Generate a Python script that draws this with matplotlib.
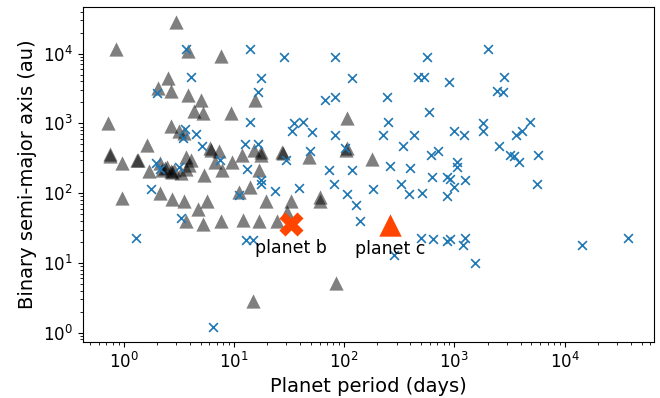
import matplotlib
matplotlib.use("Agg")
import matplotlib.pyplot as plt
import numpy as np

# circumbinary / wide-binary hosts (grey triangles)
tri_period = [0.86, 2.96, 3.86, 7.69, 2.54, 2.06, 2.67, 3.86, 5.09, 4.34,
              5.28, 9.33, 15.4, 0.73, 2.67, 107, 3.15, 3.57, 1.64, 0.75,
              0.76, 0.97, 1.33, 1.35, 6.06, 6.2, 7.3, 11.9, 15.2, 17.5,
              17.5, 27.5, 28.0, 47.9, 107, 104, 3.65, 4.05, 6.8, 9.7,
              2.16, 2.49, 2.25, 2.75, 3.3, 1.7, 5.35, 7.8, 16.8, 0.96,
              2.13, 2.76, 3.57, 5.7, 4.75, 3.65, 5.28, 7.7, 12.2, 16.8,
              24.6, 11.1, 14.0, 19.4, 33, 61, 30.4, 15, 83.6, 180,
              60, 2.4, 2.67, 2.86, 3.65, 3.9]
tri_sma = [11700, 28000, 10800, 9100, 4470, 3200, 2870, 2570, 2180, 1480,
           1410, 1410, 2180, 1000, 915, 1190, 780, 730, 490, 360,
           340, 270, 298, 300, 437, 420, 400, 352, 415, 393,
           352, 392, 380, 333, 437, 420, 333, 299, 280, 275,
           270, 240, 214, 200, 192, 207, 182, 214, 214, 86,
           102, 83, 77, 77, 59, 39.6, 36.6, 39.6, 41.8, 39.6,
           39.6, 104, 121, 77, 77, 77, 54, 2.8, 5.1, 313,
           88, 230, 210, 214, 225, 253]

# other systems (blue crosses)
x_period = [1.3, 3.65, 4.1, 2.0, 14, 28.3, 82, 117, 17.5, 16.7,
            67.8, 82, 14.1, 35, 42.5, 34, 50.8, 82.5, 4.5, 3.6,
            3.45, 5.15, 12.7, 16.6, 48.6, 102, 7.57, 30, 1.95, 13.3,
            73, 117, 3.17, 2.16, 562, 2000, 465, 535, 2800, 900,
            2420, 2750, 245, 590, 248, 225, 433, 345, 985, 1220,
            1830, 1830, 3600, 4140, 4900, 2560, 3225, 3480, 3830, 5700,
            615, 705, 260, 395, 1050, 1065, 625, 850, 922, 985,
            1240, 860, 510, 385, 330, 183, 107, 129, 139, 5600,
            500, 645, 850, 905, 1260, 1190, 1550, 285, 14300, 37600,
            1.79, 3.29, 6.5, 11.1, 17.5, 17.8, 23.5, 39.4, 13, 15,
            81]
x_sma = [22.7, 11700, 4600, 2680, 11800, 8800, 8900, 4500, 4500, 2820,
         2170, 2380, 1030, 1000, 1030, 780, 750, 683, 700, 820,
         620, 480, 510, 510, 400, 440, 295, 298, 272, 220,
         214, 214, 235, 220, 8800, 11800, 4600, 4600, 4680, 3860,
         2930, 2820, 2380, 1440, 1030, 683, 670, 480, 780, 683,
         1000, 780, 683, 780, 1030, 480, 352, 345, 275, 352,
         352, 400, 245, 233, 275, 240, 172, 168, 157, 123,
         154, 91, 100, 96, 134, 114, 96, 67, 39.5, 134,
         22.7, 21.7, 20.6, 22.2, 22.7, 17.8, 9.9, 13.2, 17.8, 22.7,
         113, 44, 1.22, 93.6, 154, 133, 106, 119, 21.1, 21.1,
         133]

# highlighted planets
planet_b = (32.7, 35.7)
planet_c = (260, 34.6)

fig, ax = plt.subplots(figsize=(6.6, 3.98), dpi=100)
fig.subplots_adjust(left=0.125, right=0.991, bottom=0.141, top=0.982)

ax.scatter(tri_period, tri_sma, marker='^', s=105, color='k', alpha=0.5, linewidths=0)
ax.scatter(x_period, x_sma, marker='x', s=40, color='#1f77b4', linewidths=1.2)
ax.scatter(*planet_b, marker='X', s=300, color='orangered', linewidths=0)
ax.scatter(*planet_c, marker='^', s=260, color='orangered', linewidths=0)

ax.text(planet_b[0], planet_b[1] * 0.62, 'planet b', fontsize=12.5, ha='center', va='top')
ax.text(planet_c[0], planet_c[1] * 0.62, 'planet c', fontsize=12.5, ha='center', va='top')

ax.set_xscale('log')
ax.set_yscale('log')
ax.set_xlabel('Planet period (days)', fontsize=14)
ax.set_ylabel('Binary semi-major axis (au)', fontsize=14)
ax.tick_params(axis='both', which='major', labelsize=12)

fig.savefig('out.png', dpi=100)
